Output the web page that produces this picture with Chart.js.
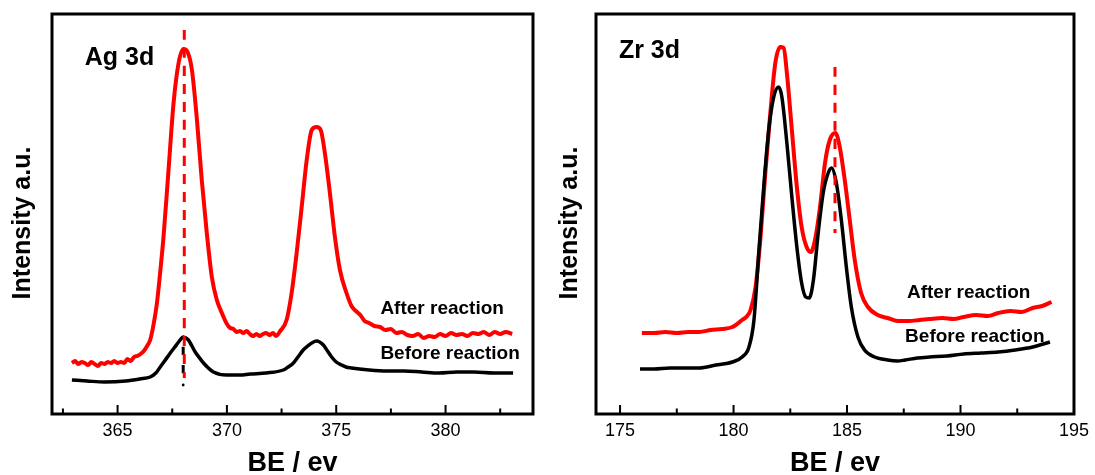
<!DOCTYPE html>
<html>
<head>
<meta charset="utf-8">
<script src="https://cdn.jsdelivr.net/npm/chart.js@4.4.0/dist/chart.umd.min.js"></script>
<style>
  html, body { margin: 0; padding: 0; background: #fff; }
  #wrap { position: relative; width: 1095px; height: 475px; }
  .panel { position: absolute; top: 0; height: 475px; }
  #agBox { left: 0; width: 548px; }
  #zrBox { left: 548px; width: 547px; }
</style>
</head>
<body>
<div id="wrap">
  <div class="panel" id="agBox"><canvas id="agChart"></canvas></div>
  <div class="panel" id="zrBox"><canvas id="zrChart"></canvas></div>
</div>
<script>
// Ag 3d, after reaction
const agAfterX = [362.91, 363.05, 363.2, 363.35, 363.5, 363.65, 363.8, 363.95, 364.1, 364.25,
  364.4, 364.55, 364.7, 364.85, 365.0, 365.15, 365.3, 365.45, 365.6, 365.75,
  365.9, 366.05, 366.2, 366.35, 366.49, 366.65, 366.8, 366.95, 367.1, 367.33,
  367.56, 367.79, 368.01, 368.2, 368.4, 368.63, 368.85, 369.08, 369.31, 369.54,
  369.77, 370.0, 370.15, 370.3, 370.45, 370.6, 370.75, 370.9, 371.05, 371.2,
  371.35, 371.5, 371.65, 371.8, 371.95, 372.1, 372.25, 372.44, 372.73, 372.96,
  373.19, 373.42, 373.65, 373.88, 374.1, 374.29, 374.48, 374.71, 374.94, 375.17,
  375.47, 375.7, 375.9, 376.1, 376.3, 376.5, 376.75, 377.0, 377.25, 377.5,
  377.75, 378.0, 378.25, 378.5, 378.75, 379.0, 379.25, 379.5, 379.75, 380.0,
  380.25, 380.5, 380.75, 381.0, 381.25, 381.5, 381.75, 382.0, 382.25, 382.5,
  382.75, 383.05];
const agAfterY = [51, 53, 50, 52, 51, 49, 52, 50, 48, 51,
  50, 52, 51, 53, 51, 52, 51, 55, 53, 57,
  58, 60, 63, 68, 74, 90, 111, 142, 177, 244,
  311, 351, 365, 362, 344, 294, 234, 181, 137, 114,
  101, 90, 86, 85, 82, 83, 81, 83, 80, 78,
  80, 78, 80, 81, 79, 81, 78, 83, 94, 121,
  161, 207, 254, 284, 287, 284, 261, 221, 177, 144,
  121, 108, 103, 99, 93, 91, 88, 87, 84, 85,
  81, 82, 79, 78, 80, 76, 78, 77, 80, 78,
  81, 79, 80, 78, 81, 80, 82, 79, 82, 80,
  82, 80];

// Ag 3d, before reaction
const agBeforeX = [362.91, 363.6, 364.41, 365.37, 366.01, 366.49, 366.75, 366.95, 367.15, 367.41,
  367.62, 367.79, 368.01, 368.24, 368.4, 368.55, 368.75, 368.93, 369.15, 369.38,
  369.99, 370.6, 371.06, 371.8, 372.58, 372.8, 373.04, 373.25, 373.49, 373.7,
  373.88, 374.1, 374.41, 374.6, 374.79, 375.0, 375.25, 375.45, 375.69, 376.5,
  377.3, 378.1, 378.91, 379.7, 380.52, 381.3, 382.2, 383.09];
const agBeforeY = [34, 33, 32, 33, 35, 37, 41, 47, 53, 61,
  67, 72, 77, 74, 68, 62, 56, 51, 46, 42,
  39, 39, 40, 41, 44, 47, 51, 57, 64, 68,
  71, 73, 69, 63, 57, 52, 49, 47, 46, 44,
  43, 43, 42, 41, 42, 42, 41, 41];

// Zr 3d, after reaction
const zrAfterX = [175.96, 176.5, 177.0, 177.5, 178.0, 178.49, 179.0, 179.5, 179.95, 180.38,
  180.6, 180.75, 180.97, 181.19, 181.41, 181.62, 181.84, 182.06, 182.21, 182.35,
  182.57, 182.79, 183.0, 183.22, 183.41, 183.59, 183.81, 184.03, 184.24, 184.49,
  184.68, 184.9, 185.12, 185.34, 185.62, 185.92, 186.35, 186.79, 187.23, 187.7,
  188.2, 188.63, 189.2, 189.7, 190.14, 190.7, 191.2, 191.66, 192.2, 192.7,
  193.18, 193.6, 194.01];
const zrAfterY = [81, 81, 82, 81, 82, 82, 84, 85, 87, 94,
  98, 104, 127, 177, 244, 301, 351, 367, 366, 341,
  284, 227, 187, 167, 162, 174, 207, 251, 274, 281,
  267, 234, 194, 154, 121, 107, 99, 96, 93, 93,
  94, 95, 96, 95, 97, 99, 98, 101, 103, 102,
  106, 108, 112];

// Zr 3d, before reaction
const zrBeforeX = [175.88, 176.5, 177.2, 178.0, 178.49, 179.22, 179.95, 180.38, 180.68, 180.9,
  181.11, 181.33, 181.55, 181.77, 181.99, 182.13, 182.35, 182.57, 182.79, 183.0,
  183.18, 183.33, 183.52, 183.73, 183.95, 184.17, 184.32, 184.53, 184.75, 184.97,
  185.19, 185.48, 185.77, 186.21, 186.79, 187.23, 187.56, 188.1, 188.63, 189.4,
  190.14, 190.9, 191.66, 192.4, 193.18, 193.94];
const zrBeforeY = [45, 45, 46, 46, 46, 49, 52, 57, 67, 94,
  161, 227, 284, 317, 327, 317, 271, 217, 167, 131,
  117, 116, 134, 181, 221, 241, 246, 231, 194, 147,
  107, 77, 64, 57, 54, 53, 54, 56, 57, 58,
  60, 61, 62, 64, 67, 72];

// vertical dashed markers at the peak positions
const agMarkX = [368.05, 368.05];
const agMarkY = [384, 36];
const agMarkBlackX = [368.0, 368.0];
const agMarkBlackY = [76, 36];
const agMarkDot = [{x: 368.0, y: 29}];
const zrMarkX = [184.47, 184.47];
const zrMarkY = [347, 181];

// x axis ticks
const agTicks = [365, 370, 375, 380];
const agMinorTicks = [362.5, 367.5, 372.5, 377.5, 382.5];
const zrTicks = [175, 180, 185, 190, 195];
const zrMinorTicks = [177.5, 182.5, 187.5, 192.5];

const FONT = "'Liberation Sans', Arial, sans-serif";

const zip = (xs, ys) => xs.map((x, i) => ({x: x, y: ys[i]}));

// box around the plot area, inward ticks, y title and the in-plot labels
const framePlugin = {
  id: 'frame',
  afterDatasetsDraw(chart, args, opts) {
    const {ctx, chartArea: a} = chart;
    const xs = chart.scales.x, ys = chart.scales.y;
    ctx.save();
    ctx.strokeStyle = '#000';
    ctx.lineWidth = 2;
    ctx.beginPath();
    opts.major.forEach(v => {
      const px = xs.getPixelForValue(v);
      ctx.moveTo(px, a.bottom); ctx.lineTo(px, a.bottom - 9);
    });
    opts.minor.forEach(v => {
      const px = xs.getPixelForValue(v);
      ctx.moveTo(px, a.bottom); ctx.lineTo(px, a.bottom - 5.5);
    });
    ctx.stroke();
    ctx.lineWidth = 3;
    ctx.strokeRect(a.left, a.top, a.width, a.height);

    ctx.fillStyle = '#000';
    ctx.textBaseline = 'middle';
    ctx.textAlign = 'left';
    opts.labels.forEach(l => {
      ctx.font = 'bold ' + l.size + 'px ' + FONT;
      ctx.fillText(l.text, xs.getPixelForValue(l.x), ys.getPixelForValue(l.y));
    });

    // y axis title, sits a little below the middle of the axis
    ctx.font = 'bold 25px ' + FONT;
    ctx.textAlign = 'center';
    ctx.translate(opts.titleX, a.top + a.height / 2 + 9);
    ctx.rotate(-Math.PI / 2);
    ctx.fillText('Intensity a.u.', 0, 0);
    ctx.restore();
  }
};

function spectrum(id, cfg) {
  return new Chart(document.getElementById(id), {
    type: 'line',
    data: {
      datasets: [
        {data: zip(cfg.markX, cfg.markY), borderColor: '#ff0000', borderWidth: 3, borderDash: [10, 8], order: 0},
        ...cfg.extra,
        {data: cfg.before, borderColor: '#000000', borderWidth: 3.5, order: 1},
        {data: cfg.after, borderColor: '#ff0000', borderWidth: 4, order: 2}
      ]
    },
    options: {
      responsive: true,
      maintainAspectRatio: false,
      animation: false,
      elements: {
        point: {radius: 0},
        line: {cubicInterpolationMode: 'monotone', fill: false}
      },
      layout: {padding: {left: 0, right: cfg.padRight, top: 14, bottom: 0}},
      plugins: {
        legend: {display: false},
        tooltip: {enabled: false},
        frame: {major: cfg.ticks, minor: cfg.minor, labels: cfg.labels, titleX: cfg.titleX}
      },
      scales: {
        x: {
          type: 'linear',
          min: cfg.min,
          max: cfg.max,
          afterBuildTicks: s => { s.ticks = cfg.ticks.map(v => ({value: v})); },
          afterFit: s => { s.height = 61; },
          grid: {display: false, drawTicks: false},
          border: {display: false},
          ticks: {color: '#000', padding: 6, font: {family: FONT, size: 18}, callback: v => String(v)},
          title: {
            display: true, text: 'BE / ev', color: '#000',
            font: {family: FONT, size: 27, weight: 'bold', lineHeight: 1},
            padding: {top: 0, bottom: -2}
          }
        },
        y: {
          min: 0,
          max: 400,
          afterFit: s => { s.width = cfg.axisWidth; },
          grid: {display: false},
          border: {display: false},
          ticks: {display: false}
        }
      }
    },
    plugins: [framePlugin]
  });
}

spectrum('agChart', {
  after: zip(agAfterX, agAfterY),
  before: zip(agBeforeX, agBeforeY),
  markX: agMarkX, markY: agMarkY,
  extra: [
    {data: zip(agMarkBlackX, agMarkBlackY), borderColor: '#000000', borderWidth: 3, borderDash: [8, 10], borderDashOffset: -9, order: 0},
    {data: agMarkDot, showLine: false, pointRadius: 1.4, pointBackgroundColor: '#000', pointBorderWidth: 0, order: 0}
  ],
  ticks: agTicks, minor: agMinorTicks,
  min: 362, max: 384, axisWidth: 52, padRight: 15, titleX: 23,
  labels: [
    {text: 'Ag 3d', x: 363.5, y: 356, size: 25},
    {text: 'After reaction', x: 377.02, y: 105, size: 19},
    {text: 'Before reaction', x: 377.02, y: 60, size: 19}
  ]
});

spectrum('zrChart', {
  after: zip(zrAfterX, zrAfterY),
  before: zip(zrBeforeX, zrBeforeY),
  markX: zrMarkX, markY: zrMarkY,
  extra: [],
  ticks: zrTicks, minor: zrMinorTicks,
  min: 173.94, max: 195, axisWidth: 48, padRight: 16, titleX: 22,
  labels: [
    {text: 'Zr 3d', x: 174.95, y: 363, size: 25},
    {text: 'After reaction', x: 187.64, y: 121, size: 19},
    {text: 'Before reaction', x: 187.56, y: 77, size: 19}
  ]
});
</script>
</body>
</html>
